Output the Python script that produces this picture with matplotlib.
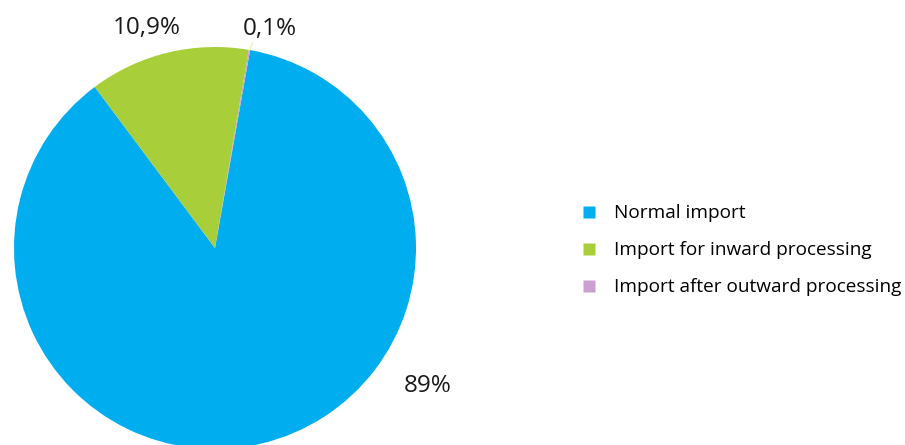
import matplotlib
matplotlib.use("Agg")
import matplotlib.pyplot as plt
from matplotlib.lines import Line2D
import numpy as np

categories = ["Normal import", "Import for inward processing", "Import after outward processing"]
shares = [87.0, 12.9, 0.1]          # wedge sizes as drawn
labels = ["89%", "10,9%", "0,1%"]   # printed labels
colors = ["#00AEEF", "#A8CF3A", "#C9A0CF"]

plt.rcParams['font.family'] = ['Open Sans', 'DejaVu Sans']

fig = plt.figure(figsize=(9.05, 4.45), dpi=100)
ax = fig.add_axes([0, 0, 1, 1])

cx, cy, r = 215, 445 - 248, 201
ax.pie(shares, colors=colors, center=(cx, cy), radius=r, startangle=79.94,
       counterclock=False, wedgeprops=dict(linewidth=0), frame=True)
ax.set_xlim(0, 905)
ax.set_ylim(0, 445)
ax.set_aspect('equal')
ax.axis('off')

# leader line for the small slice
ang = np.deg2rad(80.1)
ax.plot([cx + r * np.cos(ang), cx + (r + 7) * np.cos(ang) + 1.5],
        [cy + r * np.sin(ang), cy + (r + 7) * np.sin(ang)],
        color="#F5EFB0", lw=1)

label_pos = [(428, 445 - 386), (147, 445 - 28), (270, 445 - 29)]
for (x, y), t in zip(label_pos, labels):
    ax.text(x, y, t, ha='center', va='center', fontsize=17.5, color='#1a1a1a')

handles = [Line2D([0], [0], marker='s', linestyle='none', markersize=8,
                  markerfacecolor=c, markeredgecolor='none') for c in colors]
ax.legend(handles, categories, loc='center left', bbox_to_anchor=(0.6315, 0.4375),
          frameon=False, fontsize=13.7, handletextpad=0.85, labelspacing=1.0,
          handlelength=1.0, borderaxespad=0)

fig.savefig("out.png", dpi=100)
